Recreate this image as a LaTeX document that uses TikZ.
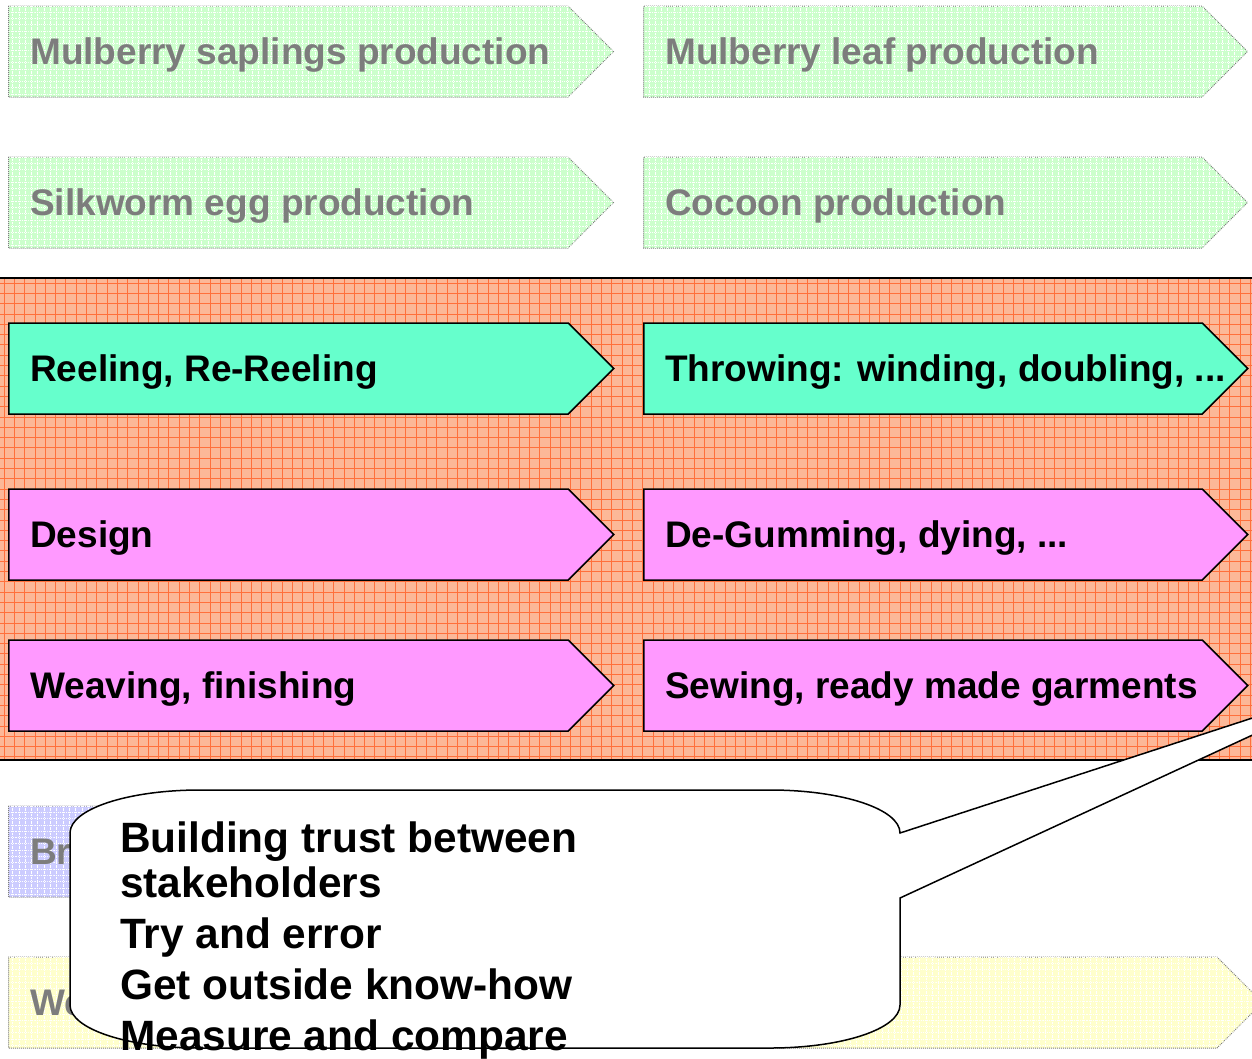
\documentclass[tikz,border=0pt]{standalone}
\usepackage{fontspec}
\setmainfont{Liberation Sans}
\usetikzlibrary{shapes.symbols,positioning,calc,patterns.meta}
\definecolor{leafgreen}{RGB}{204,255,204}
\definecolor{reelteal}{RGB}{102,255,204}
\definecolor{dyepink}{RGB}{255,153,255}
\definecolor{bandorange}{RGB}{252,184,152}
\definecolor{gridorange}{RGB}{255,112,60}
\definecolor{fadeblue}{RGB}{204,204,255}
\definecolor{fadeyellow}{RGB}{255,255,204}
\definecolor{fadegray}{RGB}{125,125,125}

\tikzset{
  stage/.style={shape=signal, signal to=east, signal pointer angle=90,
    minimum height=91pt, minimum width=605pt, inner sep=0pt, anchor=west},
  solidstage/.style={stage, draw=black, line width=1.5pt},
  fadedstage/.style={stage, draw=fadegray, densely dotted, line width=1pt,
    postaction={pattern={Hatch[angle=0,distance=6.3pt,line width=0.7pt]}, pattern color=white}},
  stagetext/.style={anchor=base west, inner sep=0pt, font=\fontsize{37}{44}\selectfont\bfseries},
  fadedtext/.style={stagetext, text=fadegray},
  gridline/.style={gridorange, line width=0.8pt},
  calloutext/.style={anchor=base west, inner sep=0pt, align=left,
    font=\fontsize{42.4}{45}\selectfont\bfseries}
}

\begin{document}
\begin{tikzpicture}[x=1pt,y=-1pt]
\path[use as bounding box, clip] (0,0) rectangle (1252,1058);

% band of the processing stages
\fill[bandorange] (-5,278) rectangle (1257,760);
\foreach \gx in {4,14.3,...,1252} \draw[gridline] (\gx,278) -- (\gx,760);
\foreach \gy in {283,293.3,...,760} \draw[gridline] (0,\gy) -- (1252,\gy);
\draw[line width=1.2pt] (-5,278) -- (1257,278);
\draw[line width=1.2pt] (-5,760) -- (1257,760);

% raw material stages (faded)
\node[fadedstage, fill=leafgreen] (sapling) at (8,51.5) {};
\node[fadedtext] at ($(sapling.west)+(22,13)$) {Mulberry saplings production};
\node[fadedstage, fill=leafgreen, minimum width=604pt] (leaf) at (643,51.5) {};
\node[fadedtext] at ($(leaf.west)+(22,13)$) {Mulberry leaf production};
\node[fadedstage, fill=leafgreen] (egg) at (8,202.5) {};
\node[fadedtext] at ($(egg.west)+(22,13)$) {Silkworm egg production};
\node[fadedstage, fill=leafgreen, minimum width=604pt] (cocoon) at (643,202.5) {};
\node[fadedtext] at ($(cocoon.west)+(22,13)$) {Cocoon production};

% processing stages
\node[solidstage, fill=reelteal] (reel) at (8,368.5) {};
\node[stagetext] at ($(reel.west)+(22,13)$) {Reeling, Re-Reeling};
\node[solidstage, fill=reelteal, minimum width=604pt] (throw) at (643,368.5) {};
\node[stagetext] at ($(throw.west)+(22,13)$) {Throwing: winding, doubling, ...};
\node[solidstage, fill=dyepink] (design) at (8,534.5) {};
\node[stagetext] at ($(design.west)+(22,13)$) {Design};
\node[solidstage, fill=dyepink, minimum width=604pt] (gum) at (643,534.5) {};
\node[stagetext] at ($(gum.west)+(22,13)$) {De-Gumming, dying, ...};
\node[solidstage, fill=dyepink] (weave) at (8,685.5) {};
\node[stagetext] at ($(weave.west)+(22,13)$) {Weaving, finishing};
\node[solidstage, fill=dyepink, minimum width=604pt] (sew) at (643,685.5) {};
\node[stagetext] at ($(sew.west)+(22,13)$) {Sewing, ready made garments};

% trade stages (faded)
\node[fadedstage, fill=fadeblue] (brand) at (8,851.5) {};
\node[fadedtext] at ($(brand.west)+(22,13)$) {Br};
\node[fadedstage, fill=fadeyellow, minimum width=1254pt] (whole) at (8,1002.5) {};
\node[fadedtext] at ($(whole.west)+(22,13)$) {We};

% callout
\coordinate (tip) at (1378,677);
\draw[line width=1.5pt, fill=white] (70,833) .. controls (70,809) and (128,790) .. (200,790)
  -- (770,790) .. controls (842,790) and (900,809) .. (900,833)
  -- (tip) -- (900,898) -- (900,1005) .. controls (900,1029) and (842,1048) .. (770,1048)
  -- (200,1048) .. controls (128,1048) and (70,1029) .. (70,1005) -- cycle;
\node[calloutext] (lessons) at (120,1050) {Building trust between\\stakeholders\\[6pt]Try and error\\[6pt]Get outside know-how\\[6pt]Measure and compare};
\end{tikzpicture}
\end{document}
